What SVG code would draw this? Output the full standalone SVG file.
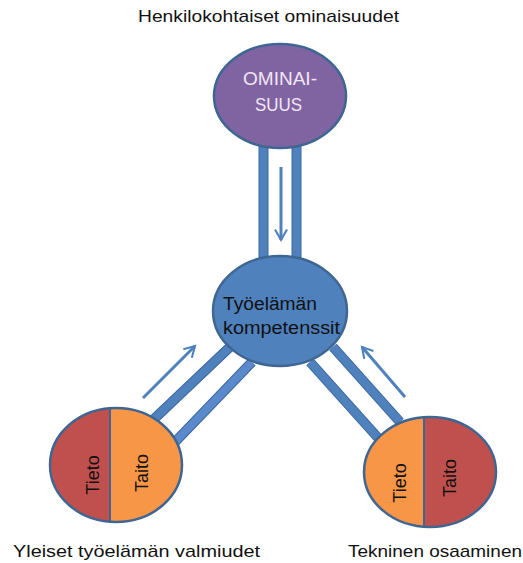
<svg xmlns="http://www.w3.org/2000/svg" width="523" height="563" viewBox="0 0 523 563">
<defs>
<style>
.lbl{font-family:"Liberation Sans",Arial,sans-serif;font-size:17px;fill:#111}
.bar{fill:#4F81BD;stroke:#3A679E;stroke-width:1}
.node{stroke:#3F6593;stroke-width:2.5}
.arr{stroke:#4F81BD;stroke-width:3;fill:none}
.in{font-family:"Liberation Sans",Arial,sans-serif;font-size:18px;fill:#111}
.om{font-family:"Liberation Sans",Arial,sans-serif;font-size:18px;fill:#F2E6F5}
</style>
<marker id="ah" viewBox="0 0 10 10" refX="8" refY="5" markerWidth="5" markerHeight="5" orient="auto" markerUnits="strokeWidth">
<path d="M1,1 L8,5 L1,9" fill="none" stroke="#4F81BD" stroke-width="1.4"/>
</marker>
</defs>
<rect width="523" height="563" fill="#fff"/>
<g id="connectors">
<rect class="bar" x="259" y="140" width="9" height="122"/>
<rect class="bar" x="292" y="140" width="9" height="122"/>
<line class="arr" x1="281" y1="167" x2="281" y2="240" marker-end="url(#ah)"/>
<line x1="153" y1="420" x2="232" y2="345" stroke="#3A679E" stroke-width="10"/>
<line x1="153" y1="420" x2="232" y2="345" stroke="#4F81BD" stroke-width="8"/>
<line x1="175" y1="442" x2="252" y2="362" stroke="#3A679E" stroke-width="10"/>
<line x1="175" y1="442" x2="252" y2="362" stroke="#5A8ACB" stroke-width="8"/>
<line class="arr" x1="143" y1="398" x2="195" y2="346" marker-end="url(#ah)"/>
<line x1="333" y1="347" x2="400" y2="422" stroke="#3A679E" stroke-width="10"/>
<line x1="333" y1="347" x2="400" y2="422" stroke="#4F81BD" stroke-width="8"/>
<line x1="310" y1="362" x2="380" y2="440" stroke="#3A679E" stroke-width="10"/>
<line x1="310" y1="362" x2="380" y2="440" stroke="#4F81BD" stroke-width="8"/>
<line class="arr" x1="405" y1="397" x2="362" y2="347" marker-end="url(#ah)"/>
</g>
<g id="ominaisuus">
<ellipse class="node" cx="280" cy="96" rx="66" ry="52" fill="#8064A2"/>
<text class="om" x="243" y="85" textLength="74" lengthAdjust="spacingAndGlyphs">OMINAI-</text>
<text class="om" x="255" y="111" textLength="47" lengthAdjust="spacingAndGlyphs">SUUS</text>
</g>
<g id="kompetenssit">
<ellipse class="node" cx="280" cy="311" rx="67" ry="55" fill="#4F81BD"/>
<text class="in" x="223" y="310" textLength="94" lengthAdjust="spacingAndGlyphs">Työelämän</text>
<text class="in" x="223" y="334" textLength="117" lengthAdjust="spacingAndGlyphs">kompetenssit</text>
</g>
<g id="yleiset">
<clipPath id="c1"><ellipse cx="116" cy="465" rx="66" ry="57"/></clipPath>
<g clip-path="url(#c1)">
<rect x="40" y="400" width="70" height="130" fill="#C0504D"/>
<rect x="110" y="400" width="80" height="130" fill="#F79646"/>
</g>
<line x1="110" y1="408" x2="110" y2="522" stroke="#3F6593" stroke-width="2"/>
<ellipse class="node" cx="116" cy="465" rx="66" ry="57" fill="none"/>
<text class="in" transform="translate(99,475) rotate(-90)" text-anchor="middle">Tieto</text>
<text class="in" transform="translate(148,473) rotate(-90)" text-anchor="middle">Taito</text>
</g>
<g id="tekninen">
<clipPath id="c2"><ellipse cx="430" cy="472" rx="66" ry="55"/></clipPath>
<g clip-path="url(#c2)">
<rect x="360" y="410" width="64" height="130" fill="#F79646"/>
<rect x="424" y="410" width="80" height="130" fill="#C0504D"/>
</g>
<line x1="424" y1="417" x2="424" y2="527" stroke="#3F6593" stroke-width="2"/>
<ellipse class="node" cx="430" cy="472" rx="66" ry="55" fill="none"/>
<text class="in" transform="translate(406,483) rotate(-90)" text-anchor="middle">Tieto</text>
<text class="in" transform="translate(456,478) rotate(-90)" text-anchor="middle">Taito</text>
</g>
<g id="labels">
<text class="lbl" x="138" y="22" textLength="261" lengthAdjust="spacingAndGlyphs">Henkilokohtaiset ominaisuudet</text>
<text class="lbl" x="13" y="557" textLength="247" lengthAdjust="spacingAndGlyphs">Yleiset työelämän valmiudet</text>
<text class="lbl" x="348" y="557" textLength="174" lengthAdjust="spacingAndGlyphs">Tekninen osaaminen</text>
</g>
</svg>
